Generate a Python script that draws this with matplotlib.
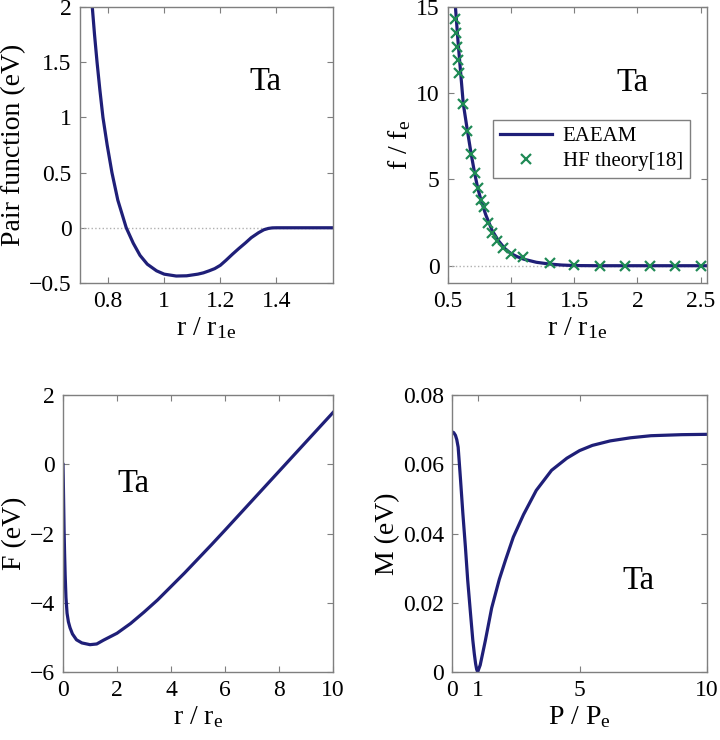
import numpy as np
import matplotlib.pyplot as plt
from matplotlib.ticker import FuncFormatter

plt.rcParams['font.family'] = ['Liberation Serif', 'DejaVu Serif']
plt.rcParams['mathtext.fontset'] = 'custom'
plt.rcParams['mathtext.rm'] = 'Liberation Serif'
plt.rcParams['mathtext.it'] = 'Liberation Serif:italic'

# pair function (top left)
pair_r = [0.744, 0.752, 0.761, 0.771, 0.782, 0.797, 0.814, 0.835, 0.865, 0.89,
          0.914, 0.94, 0.973, 1.0, 1.043, 1.08, 1.12, 1.14, 1.16, 1.18,
          1.20, 1.22, 1.243, 1.265, 1.29, 1.31, 1.336, 1.355, 1.371, 1.385,
          1.40, 1.5, 1.6]
pair_v = [2.0, 1.75, 1.5, 1.25, 1.0, 0.75, 0.5, 0.25, 0.0, -0.14,
          -0.25, -0.33, -0.39, -0.42, -0.437, -0.435, -0.42, -0.408, -0.39, -0.37,
          -0.34, -0.295, -0.24, -0.19, -0.136, -0.09, -0.045, -0.018, -0.006, -0.001,
          0.0, 0.0, 0.0]

# electron density (top right)
dens_r = [0.56, 0.58, 0.60, 0.622, 0.654, 0.684, 0.711, 0.735, 0.762, 0.80,
          0.85, 0.90, 0.95, 1.0, 1.05, 1.1, 1.2, 1.3, 1.4, 1.5,
          1.7, 2.55]
dens_f = [15.0, 13.05, 11.3, 9.4, 7.86, 6.5, 5.4, 4.55, 3.8, 2.95,
          2.05, 1.45, 1.0, 0.7, 0.52, 0.38, 0.2, 0.1, 0.04, 0.01,
          0.0, 0.0]
hf_r = [0.557, 0.566, 0.575, 0.583, 0.592, 0.622, 0.654, 0.684, 0.711, 0.735,
        0.762, 0.784, 0.815, 0.85, 0.89, 0.94, 1.0, 1.095, 1.31, 1.5,
        1.7, 1.9, 2.1, 2.3, 2.5]
hf_f = [14.3, 13.5, 12.7, 11.9, 11.2, 9.4, 7.8, 6.45, 5.4, 4.5,
        3.8, 3.4, 2.5, 1.9, 1.45, 1.05, 0.7, 0.5, 0.13, 0.02,
        0.0, 0.0, 0.0, 0.0, 0.0]

# embedding function (bottom left)
emb_r = [0.0, 0.01, 0.02, 0.04, 0.06, 0.08, 0.11, 0.15, 0.2, 0.26,
         0.35, 0.5, 0.7, 1.0, 1.25, 1.5, 2.0, 2.5, 3.0, 3.5,
         4.0, 4.5, 5.0, 5.5, 6.0, 7.0, 8.0, 9.0, 10.0]
emb_F = [0.0, -0.4, -0.9, -1.9, -2.6, -3.2, -3.85, -4.3, -4.55, -4.72,
         -4.9, -5.07, -5.16, -5.21, -5.19, -5.08, -4.88, -4.6, -4.27, -3.92,
         -3.53, -3.14, -2.73, -2.32, -1.9, -1.05, -0.2, 0.65, 1.5]

# modified term (bottom right)
mod_p = [0.0, 0.06, 0.13, 0.18, 0.235, 0.28, 0.33, 0.42, 0.52, 0.61,
         0.72, 0.81, 0.87, 0.92, 0.96, 1.0, 1.1, 1.3, 1.55, 1.85,
         2.1, 2.4, 2.8, 3.3, 3.9, 4.5, 5.0, 5.5, 6.2, 7.0,
         7.8, 9.0, 10.0]
mod_M = [0.0694, 0.0692, 0.0684, 0.0672, 0.065, 0.0605, 0.0554, 0.0458, 0.0361, 0.0265,
         0.0169, 0.0092, 0.0052, 0.0024, 0.0008, 0.0, 0.002, 0.009, 0.0185, 0.0268,
         0.0325, 0.039, 0.0455, 0.0525, 0.0583, 0.0618, 0.064, 0.0655, 0.0668, 0.0677,
         0.0683, 0.0686, 0.0687]

navy = '#1f1f78'
green = '#1f8a55'
fmt = FuncFormatter(lambda v, p: ('%g' % v).replace('-', '\u2212'))


def style(ax):
    for s in ax.spines.values():
        s.set_color('#7f7f7f')
        s.set_linewidth(1.0)
    ax.tick_params(direction='in', top=True, right=True, length=4,
                   color='#7f7f7f', labelsize=17, pad=6)
    ax.xaxis.set_major_formatter(fmt)
    ax.yaxis.set_major_formatter(fmt)


fig = plt.figure(figsize=(7.2, 7.4), dpi=100)

ax1 = fig.add_axes([0.111, 0.6176, 0.351, 0.373])
ax1.axhline(0, color='#b0b0b0', ls=':', lw=1)
ax1.plot(pair_r, pair_v, color=navy, lw=2.3)
ax1.set_xlim(0.7, 1.6)
ax1.set_ylim(-0.5, 2)
ax1.set_xticks([0.8, 1, 1.2, 1.4])
ax1.set_yticks([-0.5, 0, 0.5, 1, 1.5, 2])
ax1.set_xlabel(r'r / r$_{\mathrm{1e}}$', fontsize=20, labelpad=2)
ax1.set_ylabel('Pair function (eV)', fontsize=20, labelpad=2)
ax1.text(0.735, 0.728, 'Ta', transform=ax1.transAxes, fontsize=23.5,
         ha='center', va='center')
style(ax1)

ax2 = fig.add_axes([0.622, 0.6176, 0.36, 0.373])
ax2.axhline(0, color='#b0b0b0', ls=':', lw=1)
ax2.plot(dens_r, dens_f, color=navy, lw=2.3, label='EAEAM')
ax2.plot(hf_r, hf_f, ls='none', marker='x', ms=7, mew=1.6, color=green,
         label='HF theory[18]')
ax2.set_xlim(0.5, 2.55)
ax2.set_ylim(-1, 15)
ax2.set_xticks([0.5, 1, 1.5, 2, 2.5])
ax2.set_yticks([0, 5, 10, 15])
ax2.set_xlabel(r'r / r$_{\mathrm{1e}}$', fontsize=20, labelpad=2)
ax2.set_ylabel(r'f / f$_{\mathrm{e}}$', fontsize=20, labelpad=2)
ax2.text(0.714, 0.725, 'Ta', transform=ax2.transAxes, fontsize=23.5,
         ha='center', va='center')
leg = ax2.legend(loc='upper right', bbox_to_anchor=(0.975, 0.63), fontsize=15,
                 fancybox=False, edgecolor='#7f7f7f', framealpha=1,
                 handlelength=2.5, borderpad=0.35, labelspacing=0.25,
                 handletextpad=0.5)
leg.get_frame().set_linewidth(1.0)
style(ax2)

ax3 = fig.add_axes([0.0875, 0.0919, 0.375, 0.374])
ax3.plot(emb_r, emb_F, color=navy, lw=2.3)
ax3.set_xlim(0, 10)
ax3.set_ylim(-6, 2)
ax3.set_xticks([0, 2, 4, 6, 8, 10])
ax3.set_yticks([-6, -4, -2, 0, 2])
ax3.set_xlabel(r'r / r$_{\mathrm{e}}$', fontsize=20, labelpad=2)
ax3.set_ylabel('F (eV)', fontsize=20, labelpad=2)
ax3.text(0.26, 0.68, 'Ta', transform=ax3.transAxes, fontsize=23.5,
         ha='center', va='center')
style(ax3)

ax4 = fig.add_axes([0.628, 0.0919, 0.354, 0.374])
ax4.plot(mod_p, mod_M, color=navy, lw=2.3)
ax4.set_xlim(0, 10)
ax4.set_ylim(0, 0.08)
ax4.set_xticks([0, 1, 5, 10])
ax4.set_yticks([0, 0.02, 0.04, 0.06, 0.08])
ax4.set_xlabel(r'P / P$_{\mathrm{e}}$', fontsize=20, labelpad=2)
ax4.set_ylabel('M (eV)', fontsize=20, labelpad=2)
ax4.text(0.73, 0.33, 'Ta', transform=ax4.transAxes, fontsize=23.5,
         ha='center', va='center')
style(ax4)

fig.savefig('out.png', dpi=100)
